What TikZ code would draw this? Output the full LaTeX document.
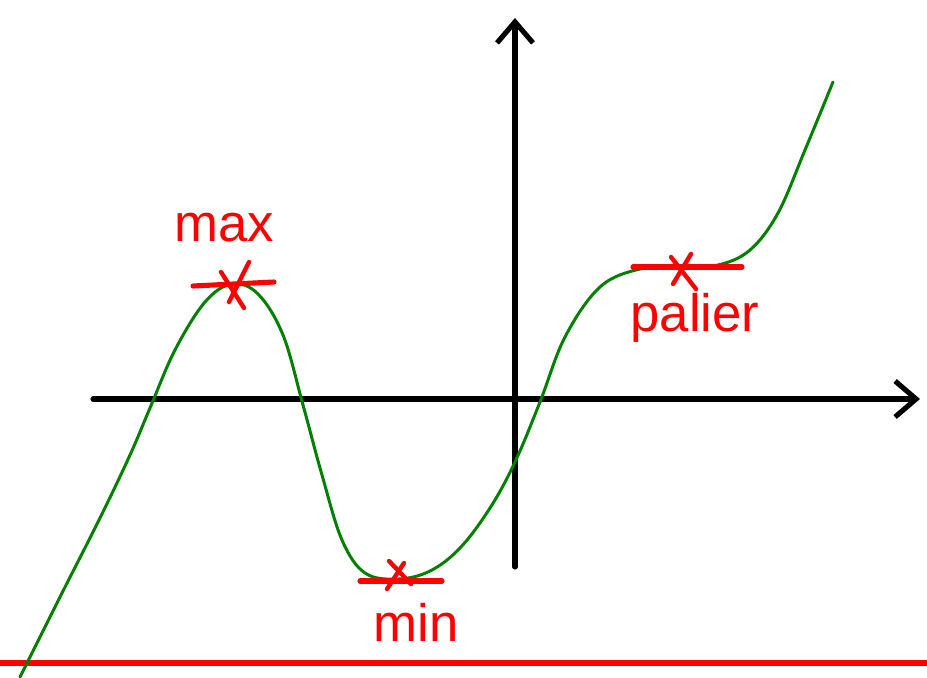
\documentclass[tikz,border=0pt]{standalone}
\usepackage{fontspec}
\setsansfont{Liberation Sans}
\usetikzlibrary{arrows.meta}

\begin{document}
\begin{tikzpicture}[x=0.02cm,y=-0.02cm,
  axis/.style={line width=2.9pt,line cap=round,-{Straight Barb[length=0.42cm,width=0.72cm,line width=2.9pt]}},
  curve/.style={draw=green!50!black,line width=1.7pt,line cap=round},
  tangent/.style={draw=red,line width=2.9pt,line cap=round},
  cross/.style={draw=red,line width=2.5pt,line cap=round},
  lbl/.style={text=red,font=\sffamily\fontsize{30}{30}\selectfont,inner sep=0pt}]
\useasboundingbox (0,0) rectangle (927,677);
% axes
\coordinate (xa) at (93,399);
\coordinate (xb) at (920,399);
\coordinate (ya) at (515,567);
\coordinate (yb) at (515,18);
\draw[axis] (xa) -- (xb);
\draw[axis] (ya) -- (yb);
% bottom line
\coordinate (ba) at (0,663);
\coordinate (bb) at (927,663);
\draw[draw=red,line width=2.9pt] (ba) -- (bb);
% curve
\draw[curve] plot[smooth,tension=0.6] coordinates {
  (20,677) (60,597) (100,518) (130,455) (150,408) (175,350) (205,302)
  (232,284) (258,294) (283,335) (303,405) (322,475) (342,540) (365,573)
  (398,579) (430,571) (460,548) (490,508) (515,462) (540,402) (565,337)
  (600,287) (640,269) (680,267) (718,265) (750,250) (778,213) (805,150) (833,82)};
% max
\draw[tangent] (193,286) -- (274,282);
\draw[cross] (249,262) -- (229,302);
\draw[cross] (221,272) -- (244,308);
\node[lbl] (max) at (224,228) {max};
% min
\draw[tangent] (360,581) -- (442,581);
\draw[cross] (389,561) -- (411,584);
\draw[cross] (404,563) -- (387,589);
\node[lbl] (min) at (416,622) {min};
% palier
\draw[tangent] (633,267) -- (742,267);
\draw[cross] (671,257) -- (696,289);
\draw[cross] (691,254) -- (673,284);
\node[lbl] (palier) at (695,318) {palier};
\end{tikzpicture}
\end{document}
